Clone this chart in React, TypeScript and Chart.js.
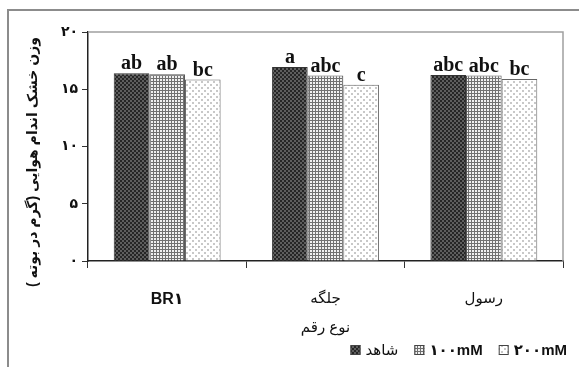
import React, { useEffect, useRef } from 'react';
import { Chart, registerables } from 'chart.js';

Chart.register(...registerables);

const categories = ['BR۱', 'جلگه', 'رسول'];
const seriesNames = ['شاهد', '۱۰۰mM', '۲۰۰mM'];
const controlValues = [16.4, 16.95, 16.25];
const mM100Values = [16.3, 16.2, 16.2];
const mM200Values = [15.85, 15.4, 15.9];
const controlLetters = ['ab', 'a', 'abc'];
const mM100Letters = ['ab', 'abc', 'abc'];
const mM200Letters = ['bc', 'c', 'bc'];
const yTickValues = [0, 5, 10, 15, 20];
const yTickLabels = ['۰', '۵', '۱۰', '۱۵', '۲۰'];
const yTitle = 'وزن خشک اندام هوایی (گرم در بوته )';
const xTitle = 'نوع رقم';

const SANS = '"Liberation Sans", "DejaVu Sans", Arial, sans-serif';
const SERIF = '"Liberation Serif", "DejaVu Serif", serif';

function makePattern(kind: string): CanvasPattern | string {
  const c = document.createElement('canvas');
  const ctx = c.getContext('2d');
  if (!ctx) return '#888';
  if (kind === 'dark') {
    c.width = 4; c.height = 4;
    ctx.fillStyle = '#5e5e5e'; ctx.fillRect(0, 0, 4, 4);
    ctx.fillStyle = '#262626'; ctx.fillRect(0, 0, 2, 2); ctx.fillRect(2, 2, 2, 2);
  } else if (kind === 'grid') {
    c.width = 3; c.height = 3;
    ctx.fillStyle = '#f0f0f0'; ctx.fillRect(0, 0, 3, 3);
    ctx.fillStyle = '#707070'; ctx.fillRect(0, 0, 3, 1); ctx.fillRect(0, 0, 1, 3);
  } else {
    c.width = 6; c.height = 6;
    ctx.fillStyle = '#ffffff'; ctx.fillRect(0, 0, 6, 6);
    ctx.fillStyle = '#c8c8c8'; ctx.fillRect(0, 0, 2, 2); ctx.fillRect(3, 3, 2, 2);
  }
  return ctx.createPattern(c, 'repeat') || '#888';
}

export default function App() {
  const ref = useRef<HTMLCanvasElement | null>(null);

  useEffect(() => {
    if (!ref.current) return;
    const patterns = [makePattern('dark'), makePattern('grid'), makePattern('dots')];
    const letters = [controlLetters, mM100Letters, mM200Letters];

    const framePlugin = {
      id: 'frame',
      beforeDraw(chart: any) {
        const ctx = chart.ctx;
        ctx.save();
        ctx.fillStyle = '#ffffff';
        ctx.fillRect(0, 0, chart.width, chart.height);
        ctx.strokeStyle = '#8c8c8c';
        ctx.lineWidth = 2;
        ctx.beginPath();
        ctx.moveTo(8, chart.height);
        ctx.lineTo(8, 10);
        ctx.lineTo(chart.width, 10);
        ctx.stroke();
        ctx.restore();
      },
      afterDraw(chart: any) {
        const ctx = chart.ctx;
        const a = chart.chartArea;
        ctx.save();
        ctx.strokeStyle = '#a0a0a0';
        ctx.lineWidth = 1.5;
        ctx.beginPath();
        ctx.moveTo(a.left, a.top);
        ctx.lineTo(a.right, a.top);
        ctx.lineTo(a.right, a.bottom);
        ctx.stroke();

        // y title
        ctx.translate(33, 162);
        ctx.rotate(-Math.PI / 2);
        ctx.direction = 'rtl';
        ctx.font = 'bold 14px ' + SANS;
        ctx.fillStyle = '#111';
        ctx.textAlign = 'center';
        ctx.textBaseline = 'middle';
        ctx.fillText(yTitle, 0, 0);
        ctx.restore();

        // legend
        ctx.save();
        ctx.textBaseline = 'alphabetic';
        ctx.textAlign = 'left';
        const fontFor = (s: string) => (/[A-Za-z]/.test(s) ? 'bold 15px ' : '15px ') + SANS;
        const box = 10, gapBT = 5, gapItem = 16, baseline = 355;
        const widths = seriesNames.map((s) => { ctx.font = fontFor(s); return ctx.measureText(s).width; });
        let total = 0;
        widths.forEach((w, i) => { total += box + gapBT + w + (i < widths.length - 1 ? gapItem : 0); });
        let x = 567 - total;
        chart.data.datasets.forEach((ds: any, i: number) => {
          ctx.fillStyle = ds.backgroundColor;
          ctx.fillRect(x, baseline - box, box, box);
          ctx.strokeStyle = '#444';
          ctx.lineWidth = 1;
          ctx.strokeRect(x + 0.5, baseline - box + 0.5, box - 1, box - 1);
          ctx.fillStyle = '#111';
          ctx.font = fontFor(ds.label);
          ctx.fillText(ds.label, x + box + gapBT, baseline);
          x += box + gapBT + widths[i] + gapItem;
        });
        ctx.restore();
      },
      afterDatasetsDraw(chart: any) {
        const ctx = chart.ctx;
        ctx.save();
        ctx.font = 'bold 20px ' + SERIF;
        ctx.fillStyle = '#111';
        ctx.textAlign = 'center';
        ctx.textBaseline = 'alphabetic';
        chart.data.datasets.forEach((ds: any, di: number) => {
          const meta = chart.getDatasetMeta(di);
          meta.data.forEach((el: any, i: number) => {
            ctx.fillText(letters[di][i], el.x, el.y - 4);
          });
        });
        ctx.restore();
      },
    };

    const chart = new Chart(ref.current, {
      type: 'bar',
      data: {
        labels: categories,
        datasets: [
          { label: seriesNames[0], data: controlValues, backgroundColor: patterns[0] as any, borderColor: '#333', borderWidth: 1 },
          { label: seriesNames[1], data: mM100Values, backgroundColor: patterns[1] as any, borderColor: '#555', borderWidth: 1 },
          { label: seriesNames[2], data: mM200Values, backgroundColor: patterns[2] as any, borderColor: '#666', borderWidth: 1 },
        ],
      },
      options: {
        responsive: false,
        animation: false,
        layout: { padding: { left: 0, right: 16, top: 32, bottom: 0 } },
        datasets: { bar: { categoryPercentage: 0.675, barPercentage: 1.0 } },
        plugins: { legend: { display: false }, tooltip: { enabled: false }, title: { display: false } },
        scales: {
          x: {
            offset: true,
            grid: { offset: true, drawOnChartArea: false, drawTicks: true, tickLength: 7, color: '#333', lineWidth: 1 },
            border: { display: true, color: '#222', width: 1.5 },
            ticks: {
              color: '#111',
              font: (c: any) => ({ family: SANS, size: c.index === 0 ? 16 : 15, weight: c.index === 0 ? 'bold' : 'normal' }),
              padding: 22,
              maxRotation: 0,
              autoSkip: false,
            },
            title: { display: true, text: xTitle, color: '#111', font: { family: SANS, size: 15, weight: 'normal' }, padding: { top: 0, bottom: 30 } },
            afterFit: (s: any) => { s.height = 106; },
          },
          y: {
            min: 0,
            max: 20,
            ticks: {
              stepSize: 5,
              color: '#111',
              padding: 4,
              font: { family: SANS, size: 14, weight: 'bold' },
              callback: (v: any) => { const i = yTickValues.indexOf(Number(v)); return i >= 0 ? yTickLabels[i] : ''; },
            },
            grid: { drawOnChartArea: false, drawTicks: true, tickLength: 6, color: '#333' },
            border: { display: true, color: '#222', width: 1.5 },
            afterFit: (s: any) => { s.width = 88; },
          },
        },
      } as any,
      plugins: [framePlugin],
    });
    return () => chart.destroy();
  }, []);

  return (
    <div style={{ position: 'fixed', left: 0, top: 0, width: 579, height: 367, background: '#fff' }}>
      <canvas ref={ref} width={579} height={367} style={{ display: 'block', width: 579, height: 367 }} />
    </div>
  );
}
